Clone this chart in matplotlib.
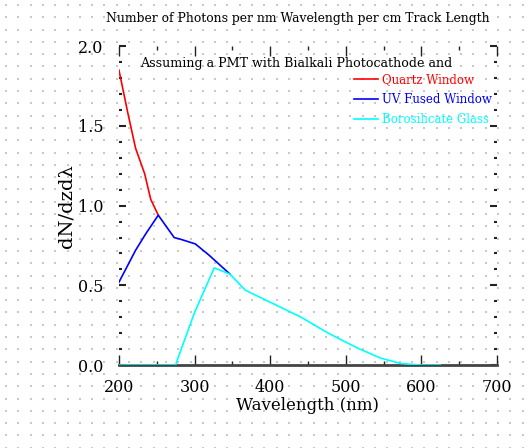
import numpy as np
import matplotlib
matplotlib.use('Agg')
import matplotlib.pyplot as plt
from matplotlib.ticker import MultipleLocator

# values
quartz_x = [200, 212, 222, 234, 242, 252]
quartz_y = [1.85, 1.575, 1.36, 1.20, 1.04, 0.94]

uvfused_x = [200, 222, 235, 252, 273, 281, 301, 319, 347]
uvfused_y = [0.52, 0.72, 0.82, 0.94, 0.80, 0.79, 0.76, 0.69, 0.57]

boro_x = [200, 250, 275, 277, 300, 326, 347, 367, 402, 441, 477, 516, 546, 573, 600, 625]
boro_y = [0.0, 0.0, 0.0, 0.03, 0.33, 0.61, 0.57, 0.47, 0.39, 0.30, 0.20, 0.106, 0.044, 0.01, 0.0, 0.0]

title = 'Number of Photons per nm Wavelength per cm Track Length'
subtitle = 'Assuming a PMT with Bialkali Photocathode and'
labels = ['Quartz Window', 'UV Fused Window', 'Borosilicate Glass']
colors = ['red', 'blue', 'cyan']

plt.rcParams['font.family'] = ['DejaVu Serif']

fig = plt.figure(figsize=(5.31, 4.48), dpi=100)

# dotted page background
bg = fig.add_axes([0, 0, 1, 1], zorder=-5)
gx, gy = np.meshgrid(np.arange(6, 531, 12.3), np.arange(5, 448, 12.3))
bg.scatter(gx.ravel(), gy.ravel(), s=0.6, c='#c8c8c8', marker='s', linewidths=0)
bg.set_xlim(0, 531)
bg.set_ylim(448, 0)
bg.axis('off')

ax = fig.add_axes([0.224, 0.185, 0.712, 0.712])
ax.patch.set_alpha(0)
ax.plot(quartz_x, quartz_y, color=colors[0], lw=1.2, label=labels[0], zorder=3)
ax.plot(uvfused_x, uvfused_y, color=colors[1], lw=1.2, label=labels[1], zorder=3)
ax.plot(boro_x, boro_y, color=colors[2], lw=1.2, label=labels[2], zorder=4)

ax.set_xlim(200, 700)
ax.set_ylim(0, 2.0)
ax.xaxis.set_major_locator(MultipleLocator(100))
ax.xaxis.set_minor_locator(MultipleLocator(50))
ax.yaxis.set_major_locator(MultipleLocator(0.5))
ax.yaxis.set_minor_locator(MultipleLocator(0.1))
ax.yaxis.set_major_formatter(matplotlib.ticker.FormatStrFormatter('%.1f'))

for s in ['left', 'right', 'top']:
    ax.spines[s].set_visible(False)
ax.spines['bottom'].set_color('#444444')
ax.spines['bottom'].set_linewidth(2)
ax.spines['bottom'].set_zorder(2)

ax.tick_params(which='both', direction='in', top=True, right=True, color='#222222', labelsize=11.5)
ax.tick_params(which='major', length=7, width=1)
ax.tick_params(which='minor', length=3, width=1)
ax.tick_params(axis='y', which='major', length=5, width=1.5, pad=11)
ax.tick_params(axis='y', which='minor', length=2, width=1.5)
ax.tick_params(axis='x', pad=10)

ax.set_xlabel('Wavelength (nm)', fontsize=12, labelpad=1)
ax.set_ylabel('dN/dzd\u03bb', fontsize=14, labelpad=2)
fig.text(0.56, 0.958, title, ha='center', va='center', fontsize=8.9)
ax.text(0.468, 0.947, subtitle, transform=ax.transAxes, ha='center', va='center', fontsize=9.1)

ax.legend(loc='upper right', bbox_to_anchor=(1.0, 0.93), frameon=False, fontsize=8.5,
          handlelength=2.0, handletextpad=0.4, labelspacing=0.6, labelcolor='linecolor',
          borderaxespad=0)

fig.savefig('out.png', dpi=100)
